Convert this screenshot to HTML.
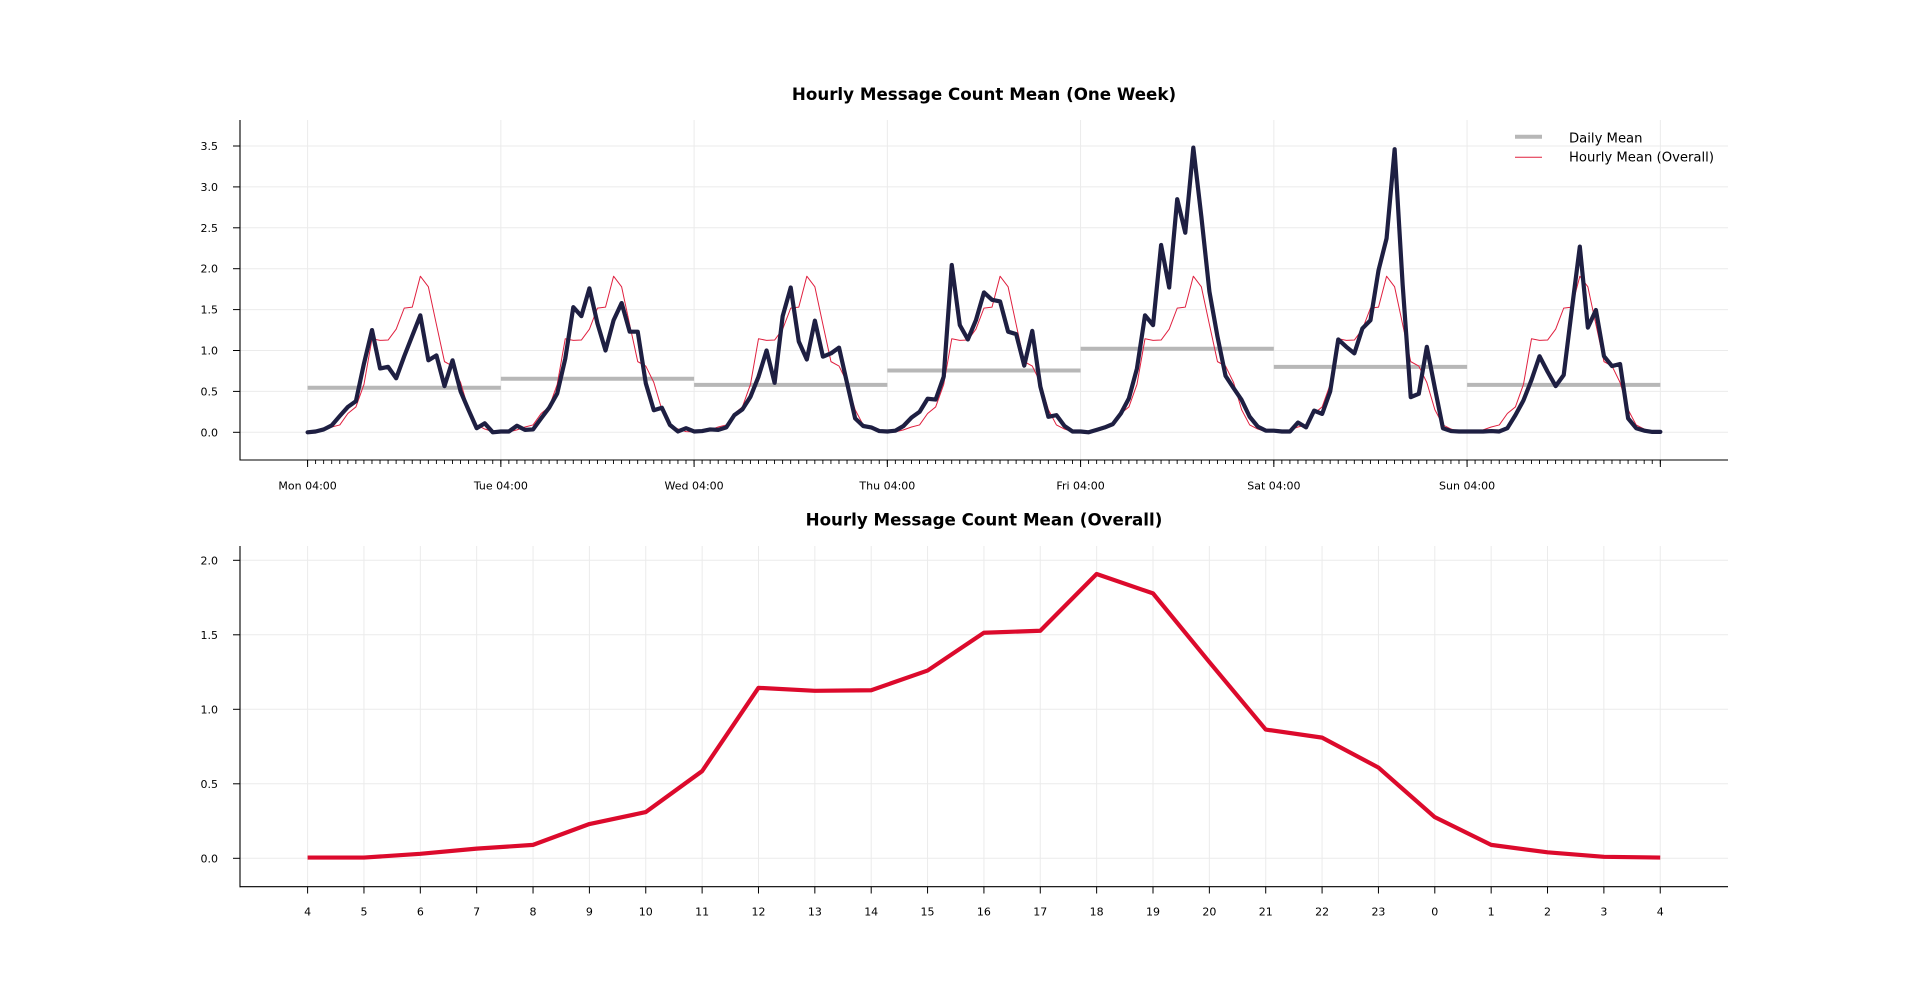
<!DOCTYPE html>
<html>
<head>
<meta charset="utf-8">
<style>
  html, body { margin: 0; padding: 0; background: #ffffff; }
  svg { display: block; }
  text { font-family: "DejaVu Sans", "Liberation Sans", sans-serif; fill: #000; }
  .tk { font-size: 11px; }
  .ttl { font-size: 16.7px; font-weight: bold; }
  .lg { font-size: 13.2px; }
</style>
</head>
<body>
<svg width="1920" height="996" viewBox="0 0 1920 996" xmlns="http://www.w3.org/2000/svg">
  <rect x="0" y="0" width="1920" height="996" fill="#ffffff"/>

  <!-- ================= TOP CHART ================= -->
  <text class="ttl" x="984" y="100" text-anchor="middle">Hourly Message Count Mean (One Week)</text>

  <!-- grid -->
  <g stroke="#ebebeb" stroke-width="1" fill="none">
    <line x1="240" x2="1728" y1="432.3" y2="432.3"/>
    <line x1="240" x2="1728" y1="391.4" y2="391.4"/>
    <line x1="240" x2="1728" y1="350.5" y2="350.5"/>
    <line x1="240" x2="1728" y1="309.6" y2="309.6"/>
    <line x1="240" x2="1728" y1="268.7" y2="268.7"/>
    <line x1="240" x2="1728" y1="227.8" y2="227.8"/>
    <line x1="240" x2="1728" y1="186.9" y2="186.9"/>
    <line x1="240" x2="1728" y1="146.0" y2="146.0"/>
    <line x1="307.6" x2="307.6" y1="120" y2="460"/>
    <line x1="500.85" x2="500.85" y1="120" y2="460"/>
    <line x1="694.1" x2="694.1" y1="120" y2="460"/>
    <line x1="887.34" x2="887.34" y1="120" y2="460"/>
    <line x1="1080.59" x2="1080.59" y1="120" y2="460"/>
    <line x1="1273.84" x2="1273.84" y1="120" y2="460"/>
    <line x1="1467.09" x2="1467.09" y1="120" y2="460"/>
    <line x1="1660.34" x2="1660.34" y1="120" y2="460"/>
  </g>

  <!-- data (data coords: x=hour, y=value) -->
  <g transform="matrix(8.052 0 0 -81.8 307.6 432.3)" fill="none">
    <!-- daily means -->
    <line x1="0" x2="24" y1="0.545" y2="0.545" stroke="#b7b7b7" stroke-width="4" vector-effect="non-scaling-stroke"/>
    <line x1="24" x2="48" y1="0.655" y2="0.655" stroke="#b7b7b7" stroke-width="4" vector-effect="non-scaling-stroke"/>
    <line x1="48" x2="72" y1="0.58" y2="0.58" stroke="#b7b7b7" stroke-width="4" vector-effect="non-scaling-stroke"/>
    <line x1="72" x2="96" y1="0.755" y2="0.755" stroke="#b7b7b7" stroke-width="4" vector-effect="non-scaling-stroke"/>
    <line x1="96" x2="120" y1="1.022" y2="1.022" stroke="#b7b7b7" stroke-width="4" vector-effect="non-scaling-stroke"/>
    <line x1="120" x2="144" y1="0.80" y2="0.80" stroke="#b7b7b7" stroke-width="4" vector-effect="non-scaling-stroke"/>
    <line x1="144" x2="168" y1="0.58" y2="0.58" stroke="#b7b7b7" stroke-width="4" vector-effect="non-scaling-stroke"/>
    <!-- hourly overall (red thin) -->
    <polyline fill="none" stroke="#e0203f" stroke-width="1" stroke-linejoin="round" vector-effect="non-scaling-stroke"
      points="0,0.005 1,0.005 2,0.03 3,0.065 4,0.09 5,0.23 6,0.31 7,0.585 8,1.144 9,1.124 10,1.128 11,1.26 12,1.518 13,1.53 14,1.908 15,1.778 16,1.317 17,0.864 18,0.81 19,0.609 20,0.276 21,0.09 22,0.04 23,0.008 24,0.005 25,0.005 26,0.03 27,0.065 28,0.09 29,0.23 30,0.31 31,0.585 32,1.144 33,1.124 34,1.128 35,1.26 36,1.518 37,1.53 38,1.908 39,1.778 40,1.317 41,0.864 42,0.81 43,0.609 44,0.276 45,0.09 46,0.04 47,0.008 48,0.005 49,0.005 50,0.03 51,0.065 52,0.09 53,0.23 54,0.31 55,0.585 56,1.144 57,1.124 58,1.128 59,1.26 60,1.518 61,1.53 62,1.908 63,1.778 64,1.317 65,0.864 66,0.81 67,0.609 68,0.276 69,0.09 70,0.04 71,0.008 72,0.005 73,0.005 74,0.03 75,0.065 76,0.09 77,0.23 78,0.31 79,0.585 80,1.144 81,1.124 82,1.128 83,1.26 84,1.518 85,1.53 86,1.908 87,1.778 88,1.317 89,0.864 90,0.81 91,0.609 92,0.276 93,0.09 94,0.04 95,0.008 96,0.005 97,0.005 98,0.03 99,0.065 100,0.09 101,0.23 102,0.31 103,0.585 104,1.144 105,1.124 106,1.128 107,1.26 108,1.518 109,1.53 110,1.908 111,1.778 112,1.317 113,0.864 114,0.81 115,0.609 116,0.276 117,0.09 118,0.04 119,0.008 120,0.005 121,0.005 122,0.03 123,0.065 124,0.09 125,0.23 126,0.31 127,0.585 128,1.144 129,1.124 130,1.128 131,1.26 132,1.518 133,1.53 134,1.908 135,1.778 136,1.317 137,0.864 138,0.81 139,0.609 140,0.276 141,0.09 142,0.04 143,0.008 144,0.005 145,0.005 146,0.03 147,0.065 148,0.09 149,0.23 150,0.31 151,0.585 152,1.144 153,1.124 154,1.128 155,1.26 156,1.518 157,1.53 158,1.908 159,1.778 160,1.317 161,0.864 162,0.81 163,0.609 164,0.276 165,0.09 166,0.04 167,0.008 168,0.005"/>
    <!-- hourly week (dark) -->
    <polyline fill="none" stroke="#1e1f42" stroke-width="4.2" stroke-linejoin="round" stroke-linecap="round" vector-effect="non-scaling-stroke"
      points="0,0 1,0.01 2,0.035 3,0.085 4,0.2 5,0.31 6,0.38 7,0.84 8,1.25 9,0.78 10,0.8 11,0.66 12,0.93 13,1.18 14,1.43 15,0.88 16,0.94 17,0.565 18,0.88 19,0.5 20,0.27 21,0.05 22,0.11 23,0 24,0.01 25,0.01 26,0.08 27,0.03 28,0.035 29,0.17 30,0.3 31,0.475 32,0.9 33,1.53 34,1.42 35,1.76 36,1.33 37,1 38,1.37 39,1.58 40,1.23 41,1.23 42,0.6 43,0.27 44,0.3 45,0.09 46,0.01 47,0.05 48,0.01 49,0.015 50,0.035 51,0.03 52,0.06 53,0.21 54,0.28 55,0.435 56,0.68 57,1 58,0.605 59,1.42 60,1.77 61,1.11 62,0.89 63,1.365 64,0.925 65,0.965 66,1.035 67,0.6 68,0.17 69,0.077 70,0.06 71,0.015 72,0.01 73,0.02 74,0.077 75,0.18 76,0.25 77,0.41 78,0.4 79,0.68 80,2.045 81,1.31 82,1.135 83,1.37 84,1.71 85,1.62 86,1.6 87,1.23 88,1.2 89,0.815 90,1.24 91,0.56 92,0.19 93,0.21 94,0.077 95,0.01 96,0.01 97,0 98,0.03 99,0.06 100,0.1 101,0.23 102,0.415 103,0.78 104,1.43 105,1.31 106,2.29 107,1.77 108,2.85 109,2.44 110,3.48 111,2.635 112,1.72 113,1.17 114,0.69 115,0.54 116,0.395 117,0.19 118,0.07 119,0.02 120,0.02 121,0.01 122,0.01 123,0.12 124,0.06 125,0.265 126,0.225 127,0.5 128,1.135 129,1.045 130,0.965 131,1.27 132,1.37 133,1.98 134,2.37 135,3.46 136,1.8 137,0.43 138,0.47 139,1.045 140,0.54 141,0.05 142,0.015 143,0.01 144,0.01 145,0.01 146,0.01 147,0.015 148,0.01 149,0.05 150,0.21 151,0.39 152,0.64 153,0.93 154,0.74 155,0.565 156,0.7 157,1.495 158,2.27 159,1.28 160,1.495 161,0.93 162,0.81 163,0.835 164,0.17 165,0.05 166,0.02 167,0.005 168,0.005"/>
  </g>

  <!-- spines -->
  <g stroke="#000" stroke-width="1.1">
    <line x1="240" x2="240" y1="120" y2="460.5"/>
    <line x1="239.5" x2="1728" y1="460" y2="460"/>
  </g>
  <!-- y ticks -->
  <g stroke="#000" stroke-width="1">
    <line x1="233" x2="240" y1="432.3" y2="432.3"/>
    <line x1="233" x2="240" y1="391.4" y2="391.4"/>
    <line x1="233" x2="240" y1="350.5" y2="350.5"/>
    <line x1="233" x2="240" y1="309.6" y2="309.6"/>
    <line x1="233" x2="240" y1="268.7" y2="268.7"/>
    <line x1="233" x2="240" y1="227.8" y2="227.8"/>
    <line x1="233" x2="240" y1="186.9" y2="186.9"/>
    <line x1="233" x2="240" y1="146.0" y2="146.0"/>
    <!-- major x ticks -->
    <line x1="307.6" x2="307.6" y1="460" y2="467"/>
    <line x1="500.85" x2="500.85" y1="460" y2="467"/>
    <line x1="694.1" x2="694.1" y1="460" y2="467"/>
    <line x1="887.34" x2="887.34" y1="460" y2="467"/>
    <line x1="1080.59" x2="1080.59" y1="460" y2="467"/>
    <line x1="1273.84" x2="1273.84" y1="460" y2="467"/>
    <line x1="1467.09" x2="1467.09" y1="460" y2="467"/>
    <line x1="1660.34" x2="1660.34" y1="460" y2="467"/>
  </g>
  <!-- minor x ticks (hourly) -->
  <line x1="307.1" x2="1661" y1="462" y2="462" stroke="#000" stroke-width="4" stroke-dasharray="0.9 7.152"/>

  <!-- y tick labels -->
  <g text-anchor="end">
    <text class="tk" x="218" y="436.3">0.0</text>
    <text class="tk" x="218" y="395.4">0.5</text>
    <text class="tk" x="218" y="354.5">1.0</text>
    <text class="tk" x="218" y="313.6">1.5</text>
    <text class="tk" x="218" y="272.7">2.0</text>
    <text class="tk" x="218" y="231.8">2.5</text>
    <text class="tk" x="218" y="190.9">3.0</text>
    <text class="tk" x="218" y="150.0">3.5</text>
  </g>
  <!-- x tick labels -->
  <g text-anchor="middle">
    <text class="tk" x="307.6" y="489.3">Mon 04:00</text>
    <text class="tk" x="500.85" y="489.3">Tue 04:00</text>
    <text class="tk" x="694.1" y="489.3">Wed 04:00</text>
    <text class="tk" x="887.34" y="489.3">Thu 04:00</text>
    <text class="tk" x="1080.59" y="489.3">Fri 04:00</text>
    <text class="tk" x="1273.84" y="489.3">Sat 04:00</text>
    <text class="tk" x="1467.09" y="489.3">Sun 04:00</text>
  </g>

  <!-- legend -->
  <line x1="1515" x2="1542" y1="136.7" y2="136.7" stroke="#b7b7b7" stroke-width="4"/>
  <text class="lg" x="1569" y="142.3">Daily Mean</text>
  <line x1="1515" x2="1542" y1="157.3" y2="157.3" stroke="#e0203f" stroke-width="1"/>
  <text class="lg" x="1569" y="161.7">Hourly Mean (Overall)</text>

  <!-- ================= BOTTOM CHART ================= -->
  <text class="ttl" x="984" y="525.5" text-anchor="middle">Hourly Message Count Mean (Overall)</text>

  <g stroke="#ebebeb" stroke-width="1" fill="none">
    <line x1="240" x2="1728" y1="858.3" y2="858.3"/>
    <line x1="240" x2="1728" y1="783.8" y2="783.8"/>
    <line x1="240" x2="1728" y1="709.3" y2="709.3"/>
    <line x1="240" x2="1728" y1="634.8" y2="634.8"/>
    <line x1="240" x2="1728" y1="560.3" y2="560.3"/>
    <line x1="307.6" x2="307.6" y1="546" y2="886.7"/>
    <line x1="363.96" x2="363.96" y1="546" y2="886.7"/>
    <line x1="420.32" x2="420.32" y1="546" y2="886.7"/>
    <line x1="476.68" x2="476.68" y1="546" y2="886.7"/>
    <line x1="533.04" x2="533.04" y1="546" y2="886.7"/>
    <line x1="589.4" x2="589.4" y1="546" y2="886.7"/>
    <line x1="645.76" x2="645.76" y1="546" y2="886.7"/>
    <line x1="702.12" x2="702.12" y1="546" y2="886.7"/>
    <line x1="758.48" x2="758.48" y1="546" y2="886.7"/>
    <line x1="814.84" x2="814.84" y1="546" y2="886.7"/>
    <line x1="871.2" x2="871.2" y1="546" y2="886.7"/>
    <line x1="927.56" x2="927.56" y1="546" y2="886.7"/>
    <line x1="983.92" x2="983.92" y1="546" y2="886.7"/>
    <line x1="1040.28" x2="1040.28" y1="546" y2="886.7"/>
    <line x1="1096.64" x2="1096.64" y1="546" y2="886.7"/>
    <line x1="1153.0" x2="1153.0" y1="546" y2="886.7"/>
    <line x1="1209.36" x2="1209.36" y1="546" y2="886.7"/>
    <line x1="1265.72" x2="1265.72" y1="546" y2="886.7"/>
    <line x1="1322.08" x2="1322.08" y1="546" y2="886.7"/>
    <line x1="1378.44" x2="1378.44" y1="546" y2="886.7"/>
    <line x1="1434.8" x2="1434.8" y1="546" y2="886.7"/>
    <line x1="1491.16" x2="1491.16" y1="546" y2="886.7"/>
    <line x1="1547.52" x2="1547.52" y1="546" y2="886.7"/>
    <line x1="1603.88" x2="1603.88" y1="546" y2="886.7"/>
    <line x1="1660.24" x2="1660.24" y1="546" y2="886.7"/>
  </g>

  <g transform="matrix(56.36 0 0 -149 307.6 858.3)" fill="none">
    <polyline fill="none" stroke="#dc0a2c" stroke-width="4.2" stroke-linejoin="round" stroke-linecap="butt" vector-effect="non-scaling-stroke"
      points="0,0.005 1,0.005 2,0.03 3,0.065 4,0.09 5,0.23 6,0.31 7,0.585 8,1.144 9,1.124 10,1.128 11,1.26 12,1.514 13,1.527 14,1.908 15,1.778 16,1.317 17,0.864 18,0.81 19,0.609 20,0.276 21,0.09 22,0.04 23,0.01 24,0.005"/>
  </g>

  <g stroke="#000" stroke-width="1.1">
    <line x1="240" x2="240" y1="546" y2="887.2"/>
    <line x1="239.5" x2="1728" y1="886.7" y2="886.7"/>
  </g>
  <g stroke="#000" stroke-width="1">
    <line x1="233" x2="240" y1="858.3" y2="858.3"/>
    <line x1="233" x2="240" y1="783.8" y2="783.8"/>
    <line x1="233" x2="240" y1="709.3" y2="709.3"/>
    <line x1="233" x2="240" y1="634.8" y2="634.8"/>
    <line x1="233" x2="240" y1="560.3" y2="560.3"/>
    <line x1="307.6" x2="307.6" y1="886.7" y2="893.5"/>
    <line x1="363.96" x2="363.96" y1="886.7" y2="893.5"/>
    <line x1="420.32" x2="420.32" y1="886.7" y2="893.5"/>
    <line x1="476.68" x2="476.68" y1="886.7" y2="893.5"/>
    <line x1="533.04" x2="533.04" y1="886.7" y2="893.5"/>
    <line x1="589.4" x2="589.4" y1="886.7" y2="893.5"/>
    <line x1="645.76" x2="645.76" y1="886.7" y2="893.5"/>
    <line x1="702.12" x2="702.12" y1="886.7" y2="893.5"/>
    <line x1="758.48" x2="758.48" y1="886.7" y2="893.5"/>
    <line x1="814.84" x2="814.84" y1="886.7" y2="893.5"/>
    <line x1="871.2" x2="871.2" y1="886.7" y2="893.5"/>
    <line x1="927.56" x2="927.56" y1="886.7" y2="893.5"/>
    <line x1="983.92" x2="983.92" y1="886.7" y2="893.5"/>
    <line x1="1040.28" x2="1040.28" y1="886.7" y2="893.5"/>
    <line x1="1096.64" x2="1096.64" y1="886.7" y2="893.5"/>
    <line x1="1153.0" x2="1153.0" y1="886.7" y2="893.5"/>
    <line x1="1209.36" x2="1209.36" y1="886.7" y2="893.5"/>
    <line x1="1265.72" x2="1265.72" y1="886.7" y2="893.5"/>
    <line x1="1322.08" x2="1322.08" y1="886.7" y2="893.5"/>
    <line x1="1378.44" x2="1378.44" y1="886.7" y2="893.5"/>
    <line x1="1434.8" x2="1434.8" y1="886.7" y2="893.5"/>
    <line x1="1491.16" x2="1491.16" y1="886.7" y2="893.5"/>
    <line x1="1547.52" x2="1547.52" y1="886.7" y2="893.5"/>
    <line x1="1603.88" x2="1603.88" y1="886.7" y2="893.5"/>
    <line x1="1660.24" x2="1660.24" y1="886.7" y2="893.5"/>
  </g>

  <g text-anchor="end">
    <text class="tk" x="218" y="862.3">0.0</text>
    <text class="tk" x="218" y="787.8">0.5</text>
    <text class="tk" x="218" y="713.3">1.0</text>
    <text class="tk" x="218" y="638.8">1.5</text>
    <text class="tk" x="218" y="564.3">2.0</text>
  </g>
  <g text-anchor="middle">
    <text class="tk" x="307.6" y="915.3">4</text>
    <text class="tk" x="363.96" y="915.3">5</text>
    <text class="tk" x="420.32" y="915.3">6</text>
    <text class="tk" x="476.68" y="915.3">7</text>
    <text class="tk" x="533.04" y="915.3">8</text>
    <text class="tk" x="589.4" y="915.3">9</text>
    <text class="tk" x="645.76" y="915.3">10</text>
    <text class="tk" x="702.12" y="915.3">11</text>
    <text class="tk" x="758.48" y="915.3">12</text>
    <text class="tk" x="814.84" y="915.3">13</text>
    <text class="tk" x="871.2" y="915.3">14</text>
    <text class="tk" x="927.56" y="915.3">15</text>
    <text class="tk" x="983.92" y="915.3">16</text>
    <text class="tk" x="1040.28" y="915.3">17</text>
    <text class="tk" x="1096.64" y="915.3">18</text>
    <text class="tk" x="1153.0" y="915.3">19</text>
    <text class="tk" x="1209.36" y="915.3">20</text>
    <text class="tk" x="1265.72" y="915.3">21</text>
    <text class="tk" x="1322.08" y="915.3">22</text>
    <text class="tk" x="1378.44" y="915.3">23</text>
    <text class="tk" x="1434.8" y="915.3">0</text>
    <text class="tk" x="1491.16" y="915.3">1</text>
    <text class="tk" x="1547.52" y="915.3">2</text>
    <text class="tk" x="1603.88" y="915.3">3</text>
    <text class="tk" x="1660.24" y="915.3">4</text>
  </g>
</svg>
</body>
</html>
